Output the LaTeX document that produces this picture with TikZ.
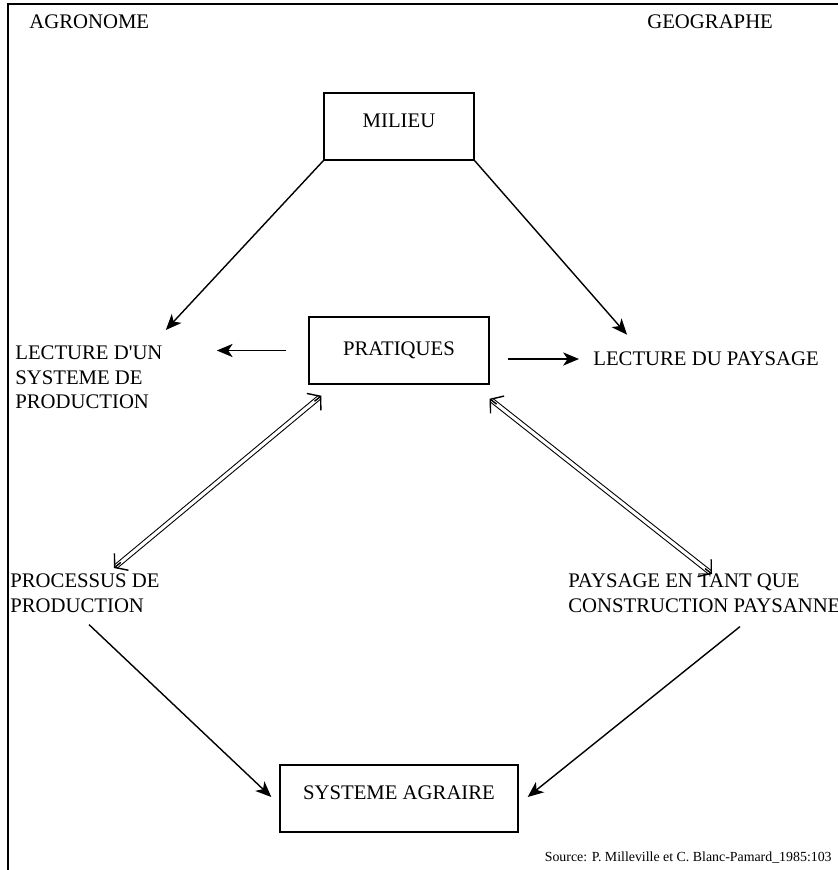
\documentclass[tikz,border=0pt]{standalone}
\usepackage{fontspec}
\setmainfont{Liberation Serif}
\usetikzlibrary{positioning, arrows.meta, calc}

\begin{document}
\begin{tikzpicture}[
    x=0.02cm, y=-0.02cm,
    every node/.style={font=\fontsize{11.8}{14.2}\selectfont},
    box/.style={draw, line width=0.8pt, inner sep=0pt, minimum height=1.34cm},
    txt/.style={align=left, inner sep=0pt},
    arr/.style={line width=0.8pt, -{Stealth[length=9pt, width=7.5pt, inset=2.5pt]}},
    dbl/.style={double, double distance=1.8pt, line width=0.6pt, shorten <=1.2pt, shorten >=1.2pt},
    barb/.style={line width=0.8pt, -{Straight Barb[length=5pt, width=12.5pt]}},
    src/.style={font=\fontsize{7.9}{9}\selectfont, inner sep=0pt},
]
\useasboundingbox (0,0) rectangle (838,870);
% frame
\draw[line width=1pt] (8,870) -- (8,4) -- (838,4);

% column headers
\node[txt, anchor=west] (agro) at (29,22) {AGRONOME};
\node[txt, anchor=west] (geo) at (647,22) {GEOGRAPHE};

% boxes
\node[box, minimum width=3cm, text height=9pt, text depth=8pt] (milieu) at (399,126.5) {MILIEU};
\node[box, minimum width=3.6cm] (prat) at (399,350.5) {PRATIQUES};
\node[box, minimum width=4.76cm, text height=9pt, text depth=8pt] (agraire) at (399,798.5) {SYSTEME AGRAIRE};

% readings
\node[txt, anchor=north west] (lectsys) at (15,345) {LECTURE D\textquotesingle UN\\SYSTEME DE\\PRODUCTION};
\node[txt, anchor=west] (lectpay) at (593,359) {LECTURE DU PAYSAGE};

% processes
\node[txt, anchor=north west] (proc) at (10,573) {PROCESSUS DE\\PRODUCTION};
\node[txt, anchor=north west] (pays) at (568,573) {PAYSAGE EN TANT QUE\\CONSTRUCTION PAYSANNE};

\node[src, anchor=east] (source) at (832,858) {Source: P. Milleville et C. Blanc-Pamard\_1985:103};

% ends of the double arrows
\coordinate (pl) at ($(prat.south west)+(13,11)$);
\coordinate (ql) at ($(proc.north west)+(104,-5)$);
\coordinate (pr) at ($(prat.south east)+(0,14)$);
\coordinate (qr) at ($(pays.north west)+(144,1)$);

% connectors
\draw[arr] (milieu.south west) -- ($(lectsys.north east)+(3,-15)$);
\draw[arr] (milieu.south east) -- ($(lectpay.north west)+(34,-17)$);
\draw[arr, shorten <=0.44cm, shorten >=1.08cm] (prat.west) -- (prat.west -| lectsys.east);
\draw[arr, shorten <=0.36cm, shorten >=0.28cm] (prat.east |- lectpay.west) -- (lectpay.west);
\draw[dbl] (pl) -- (ql);
\draw[dbl] (pr) -- (qr);
\draw[barb] ($(pl)!5pt!(ql)$) -- (pl);
\draw[barb] ($(ql)!5pt!(pl)$) -- (ql);
\draw[barb] ($(pr)!5pt!(qr)$) -- (pr);
\draw[barb] ($(qr)!5pt!(pr)$) -- (qr);
\draw[arr] ($(proc.south west)+(79,12)$) -- ($(agraire.west)+(-8,-1.5)$);
\draw[arr] ($(pays.south west)+(172,14)$) -- ($(agraire.east)+(9,-1.5)$);
\end{tikzpicture}
\end{document}
